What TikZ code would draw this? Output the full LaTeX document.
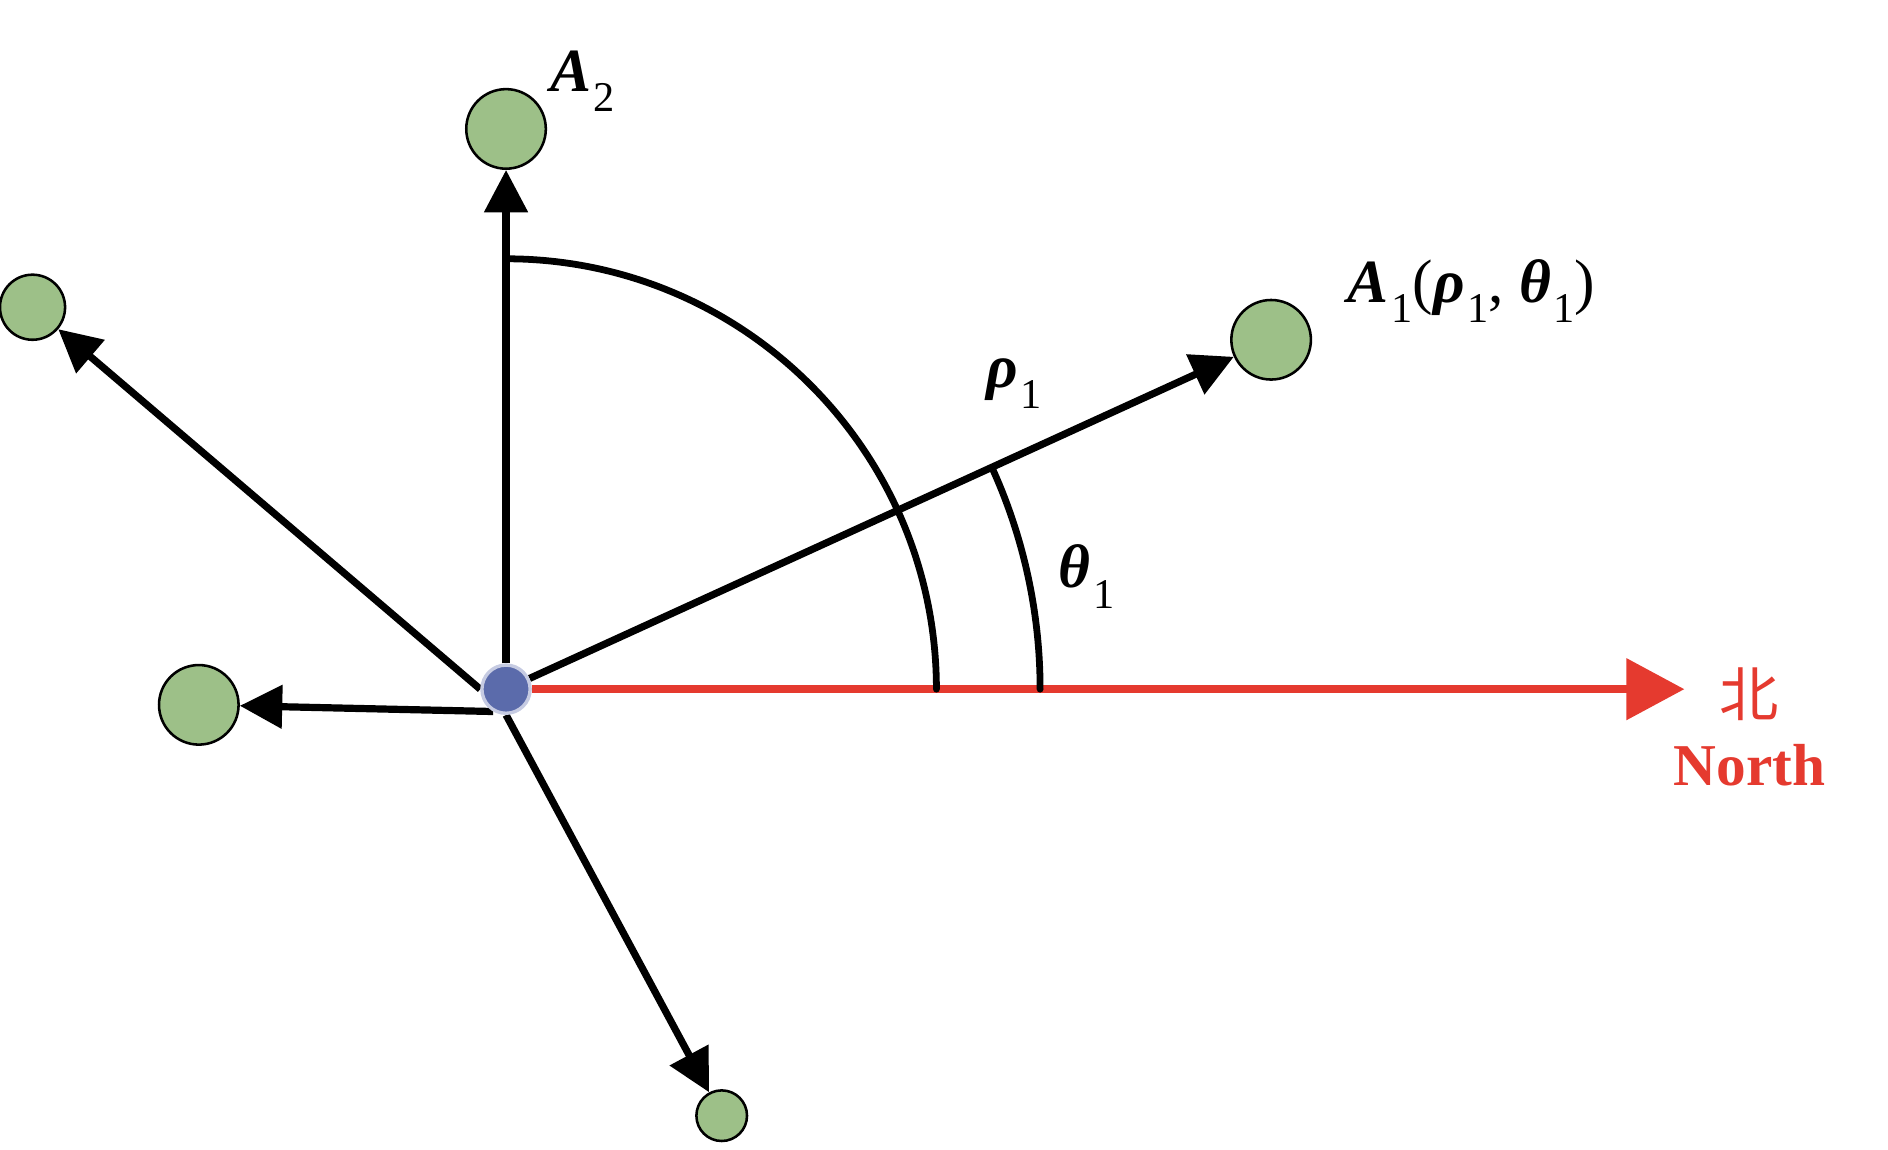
\documentclass[tikz,border=0pt]{standalone}
\usepackage{fontspec}
\setmainfont{Liberation Serif}
\newfontfamily\cjk{Noto Sans CJK SC}
\usetikzlibrary{arrows.meta,backgrounds}
\definecolor{stationgreen}{HTML}{9DC088}
\definecolor{centreblue}{HTML}{5B6BAB}
\definecolor{northred}{HTML}{E53A2F}
\newcommand\sublab[2]{{\bfseries\itshape #1}\kern0.6pt\raisebox{-4.8pt}{\fontsize{10}{10}\selectfont #2}}

\begin{document}
\begin{tikzpicture}[x=0.01cm, y=0.01cm,
		station/.style={circle, draw=black, line width=0.6pt, fill=stationgreen, inner sep=0pt, minimum size=#1},
		station/.default=0.66cm,
		ray/.style={line width=1.7pt, -{Triangle[length=10pt, width=10pt]}},
		northray/.style={draw=northred, line width=1.8pt, -{Triangle[length=13.7pt, width=14.2pt]}},
		arcline/.style={line width=1.6pt, line cap=round},
		lbl/.style={font=\fontsize{14.5}{16}\selectfont, inner sep=0pt, anchor=base west}]
		%%%%% START %%%%%
		\useasboundingbox (0, 0) rectangle (1567, 954);
		
		\node[circle, fill=centreblue, draw=centreblue!35, line width=0.8pt, inner sep=0pt, minimum size=0.4cm] (O) at (420, 382) {};
		
		\node[station] (A2) at (420, 847) {};
		\node[station] (A1) at (1055, 672) {};
		\node[station=0.54cm] (B1) at (27, 699) {};
		\node[station] (B2) at (165, 369) {};
		\node[station=0.42cm] (B3) at (599, 28) {};
		\coordinate (N) at (1398, 382);
		
		\begin{scope}[on background layer]
			\draw[ray] (O.north) -- (A2);
			\draw[ray] (O) -- (A1);
			\draw[ray] (O.west) -- (B1);
			\draw[ray] (O.240) -- (B2);
			\draw[ray] (O.south) -- (B3);
			\draw[northray] (O) -- (N);
		\end{scope}
		
		\draw[arcline] (O.center) ++(90:3.57cm) arc[start angle=90, end angle=0, radius=3.57cm];
		\draw[arcline] (O.center) ++(0:4.43cm) arc[start angle=0, end angle=24.5, radius=4.43cm];
		
		\node[lbl] (A2lab) at (456, 878) {\sublab{A}{2}};
		\node[lbl] (A1lab) at (1118, 703) {\sublab{A}{1}(\sublab{ρ}{1}, \sublab{θ}{1})};
		\node[lbl] (rholab) at (818, 632) {\sublab{ρ}{1}};
		\node[lbl] (thetalab) at (878, 466) {\sublab{θ}{1}};
		
		\node[text=northred, font=\cjk\fontsize{14}{16}\selectfont] (bei) at (1452, 378) {北};
		\node[text=northred, font=\bfseries\fontsize{14}{17}\selectfont, anchor=base] (north) at (1452, 302) {North};
		%%%%% END %%%%%
	\end{tikzpicture}
\end{document}
